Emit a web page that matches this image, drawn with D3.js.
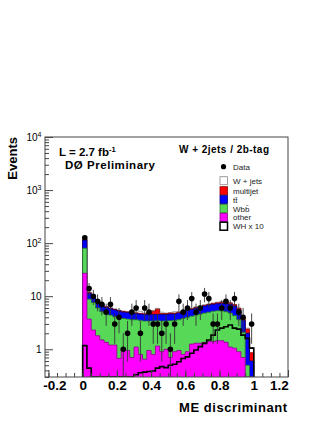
<!DOCTYPE html>
<html>
<head>
<meta charset="utf-8">
<script src="https://cdn.jsdelivr.net/npm/d3@7"></script>
<style>
body { margin:0; background:#fff; }
text { font-family: "Liberation Sans", Arial, Helvetica, sans-serif; }
</style>
</head>
<body>
<script>

// 40 bins of width 0.025 between 0 and 1
var nBins = 40;
var binWidth = 0.025;

var dataCounts = [126,14,10,8,7,5,7,3,4,1, 2,5,6,2,6,5,3,3,2,3, 1,3,8,5,6,9,5,6,11,9, 3,3,6,8,6,9,5,4,0,3];

var other    = [27,3.7,2.3,1.8,1.5,1.35,1.2,1.2,0.67,1.05, 0.95,0.7,1.1,0.8,0.65,0.95,0.8,1.15,0.9,1.0,
                0.7,0.9,0.95,0.8,0.9,1.25,1.3,1.3,1.35,1.4, 1.4,1.45,1.45,1.35,1.1,1.05,0.9,0.7,0.2,0.05];
var wbb      = [53,5.1,5.3,4.2,3.6,3.35,3.2,2.9,3.23,2.75, 2.75,2.9,2.5,2.7,2.75,2.45,2.6,2.3,2.5,2.4,
                2.75,2.6,2.65,3.0,3.1,2.95,3.1,3.3,3.45,3.6, 3.8,3.85,3.85,3.75,3.7,3.25,2.7,1.4,0.3,0.15];
var ttbar    = [35,2.5,2.0,1.9,1.7,1.4,1.4,1.4,1.3,1.2, 1.2,1.2,1.1,1.1,1.1,1.1,1.1,1.05,1.1,1.1,
                1.15,1.1,1.2,1.2,1.3,1.4,1.5,1.6,1.7,1.8, 1.8,1.9,2.0,2.2,2.2,2.2,1.9,1.4,1.5,0.4];
var multijet = [3,0.4,0.3,0.2,0.2,0.2,0.15,0.15,0.15,0.15, 0.15,0.15,0.15,0.15,0.15,0.2,0.7,1.2,0.2,0.2,
                0.2,0.2,0.2,0.2,0.2,0.2,0.2,0.2,0.2,0.2, 0.3,0.3,0.4,0.5,0.4,0.4,0.4,0.3,0.4,0.26];
var wjets    = [4,0.3,0.2,0.2,0.2,0.1,0.1,0.1,0.1,0.1, 0.1,0.1,0.45,0.45,0.15,0.1,0.2,0.2,0.3,0.1,
                0.1,0.3,0.1,0.1,0.1,0.1,0.2,0.1,0.2,0.1, 0.1,0.2,0.2,0.2,0.2,0.1,0.1,0.1,0.1,0.22];
var whx10    = [1.17,0.44,0,0,0,0,0,0,0,0, 0,0,0.33,0.36,0.37,0.38,0.39,0.44,0.47,0.45,
                0.5,0.52,0.58,0.67,0.72,0.84,0.97,1.12,1.29,1.49, 1.85,2.3,2.5,2.66,2.87,2.5,2.4,1.85,1.6,1.05];

var xTicks = [-0.2,0,0.2,0.4,0.6,0.8,1,1.2];
var yTicks = [1,10,100,1000,10000];

var legendNames = ['Data','W + jets','multijet','t\u0074\u0304','Wb\u0062\u0304','other','WH x 10'];

var W = 327, H = 423;
var svg = d3.select('body').append('svg')
    .attr('width',W)
    .attr('height',H);

svg.append('rect').attr('width',W).attr('height',H).attr('fill','white');

var x = d3.scaleLinear().domain([-0.22,1.2]).range([45,288]);
var y = d3.scaleLog().domain([0.3,10000]).range([377,137]).clamp(true);
var yMin = 0.3;

svg.append('clipPath').attr('id','frame')
    .append('rect').attr('x',45).attr('y',137).attr('width',243).attr('height',240);

// stack: cumulative sums
var layers = [other, wbb, ttbar, multijet, wjets];
var fills   = ['#ff00ff','#57d957','#0000ff','#ff0000','#ffffff'];
var strokes = ['#8a008a','#2f7a2f','#00007a','#8a0000','#888888'];
var cum = [];
var run = d3.range(nBins).map(function(){ return 0; });
layers.forEach(function(arr){
    run = run.map(function(v,i){ return v + arr[i]; });
    cum.push(run.slice());
});

function stepPoints(vals){
    var pts = [[0,yMin]];
    vals.forEach(function(v,i){
        pts.push([i*binWidth, Math.max(v,yMin)]);
        pts.push([(i+1)*binWidth, Math.max(v,yMin)]);
    });
    pts.push([nBins*binWidth,yMin]);
    return pts;
}

var line = d3.line()
    .x(function(d){ return x(d[0]); })
    .y(function(d){ return y(d[1]); });

var plot = svg.append('g').attr('clip-path','url(#frame)');

for (var k = cum.length-1; k >= 0; k--) {
    plot.append('path')
        .attr('d', line(stepPoints(cum[k])))
        .attr('fill', fills[k])
        .attr('stroke', strokes[k])
        .attr('stroke-width', 0.8);
}

// WH x 10 outline
plot.append('path')
    .attr('d', line(stepPoints(whx10)))
    .attr('fill','none')
    .attr('stroke','black')
    .attr('stroke-width',1.6);

// data with sqrt(N) errors
dataCounts.forEach(function(n,i){
    if (n <= 0) return;
    var cx = x((i+0.5)*binWidth);
    var e = Math.sqrt(n);
    plot.append('line')
        .attr('x1',cx).attr('x2',cx)
        .attr('y1',y(Math.max(n-e,yMin)))
        .attr('y2',y(n+e))
        .attr('stroke','#333')
        .attr('stroke-width',0.9);
    plot.append('circle')
        .attr('cx',cx)
        .attr('cy',y(n))
        .attr('r',2.8)
        .attr('fill','black');
});

// frame
svg.append('rect')
    .attr('x',45).attr('y',137).attr('width',243).attr('height',240)
    .attr('fill','none')
    .attr('stroke','#444')
    .attr('stroke-width',1);

// x axis
var xMinor = d3.range(-0.2,1.2001,0.05);
svg.append('g')
    .attr('transform','translate(0,377)')
    .call(d3.axisBottom(x).tickValues(xMinor).tickSize(-4).tickFormat(''))
    .call(function(g){ g.select('.domain').remove(); g.selectAll('line').attr('stroke','#444'); });

var xAxis = svg.append('g')
    .attr('transform','translate(0,377)')
    .call(d3.axisBottom(x).tickValues(xTicks).tickSize(-7).tickPadding(3)
        .tickFormat(function(d){ return d3.format('')(Math.round(d*10)/10); }));
xAxis.select('.domain').remove();
xAxis.selectAll('line').attr('stroke','#444');
xAxis.selectAll('text')
    .attr('font-size',13.5)
    .attr('font-weight','bold')
    .attr('fill','black')
    .attr('font-family','"Liberation Sans", Arial, sans-serif')
    .attr('dx',function(d){ return d < -0.1 ? 6 : (d > 1.1 ? -9 : 0); })
    .text(function(d){ return d < 0 ? '-0.2' : d3.format('')(Math.round(d*10)/10); });

// y axis
var yMinor = [];
[0.1,1,10,100,1000].forEach(function(dec){
    for (var m = 2; m <= 9; m++) {
        var v = m*dec;
        if (v >= 0.3 && v <= 10000) yMinor.push(v);
    }
});
svg.append('g')
    .attr('transform','translate(45,0)')
    .call(d3.axisLeft(y).tickValues(yMinor).tickSize(-4).tickFormat(''))
    .call(function(g){ g.select('.domain').remove(); g.selectAll('line').attr('stroke','#444'); });

var yAxis = svg.append('g')
    .attr('transform','translate(45,0)')
    .call(d3.axisLeft(y).tickValues(yTicks).tickSize(-8).tickPadding(4).tickFormat(''));
yAxis.select('.domain').remove();
yAxis.selectAll('line').attr('stroke','#444');
yAxis.selectAll('.tick').each(function(d){
    var t = d3.select(this).append('text')
        .attr('x',-3.5)
        .attr('y',3.5)
        .attr('text-anchor','end')
        .attr('fill','black')
        .attr('font-size',10)
        .attr('font-family','"Liberation Sans", Arial, sans-serif');
    var p = Math.round(Math.log10(d));
    if (p === 0) { t.text('1'); }
    else if (p === 1) { t.text('10'); }
    else {
        t.append('tspan').text('10');
        t.append('tspan').attr('font-size',7).attr('dy',-4).text(p);
    }
});

// axis titles
svg.append('text')
    .attr('transform','translate(17,137) rotate(-90)')
    .attr('text-anchor','end')
    .attr('font-size',13)
    .attr('font-weight','bold')
    .text('Events');

svg.append('text')
    .attr('x',179).attr('y',412)
    .attr('font-size',13)
    .attr('font-weight','bold')
    .attr('textLength',108)
    .attr('lengthAdjust','spacing')
    .text('ME discriminant');

// labels
var lum = svg.append('text')
    .attr('x',59).attr('y',156)
    .attr('font-size',11.5)
    .attr('font-weight','bold');
lum.append('tspan').text('L = 2.7 fb');
lum.append('tspan').attr('font-size',7.5).attr('dy',-4.5).text('-1');

svg.append('text')
    .attr('x',65).attr('y',169)
    .attr('font-size',11.5)
    .attr('font-weight','bold')
    .attr('textLength',90)
    .attr('lengthAdjust','spacing')
    .text('D\u00d8 Preliminary');

svg.append('text')
    .attr('x',179).attr('y',153)
    .attr('font-size',10)
    .attr('font-weight','bold')
    .attr('textLength',90)
    .attr('lengthAdjust','spacing')
    .text('W + 2jets / 2b-tag');

// legend
var legY = [166.7,180.7,190.7,199.5,208.5,217.3,226.2];
var legFill = [null,'#ffffff','#ff0000','#0000ff','#57d957','#ff00ff','#ffffff'];
var legStroke = [null,'#888888','#8a0000','#00007a','#2f7a2f','#8a008a','#000000'];
legendNames.forEach(function(name,i){
    if (i === 0) {
        svg.append('circle').attr('cx',223.5).attr('cy',legY[i]).attr('r',2.6).attr('fill','black');
    } else {
        svg.append('rect')
            .attr('x',220).attr('y',legY[i]-4)
            .attr('width',7.5).attr('height',8)
            .attr('fill',legFill[i])
            .attr('stroke',legStroke[i])
            .attr('stroke-width', i === 6 ? 1.5 : 0.8);
    }
    svg.append('text')
        .attr('x',233).attr('y',legY[i]+3)
        .attr('font-size',8)
        .attr('fill','#222')
        .text(name);
});

</script>
</body>
</html>
